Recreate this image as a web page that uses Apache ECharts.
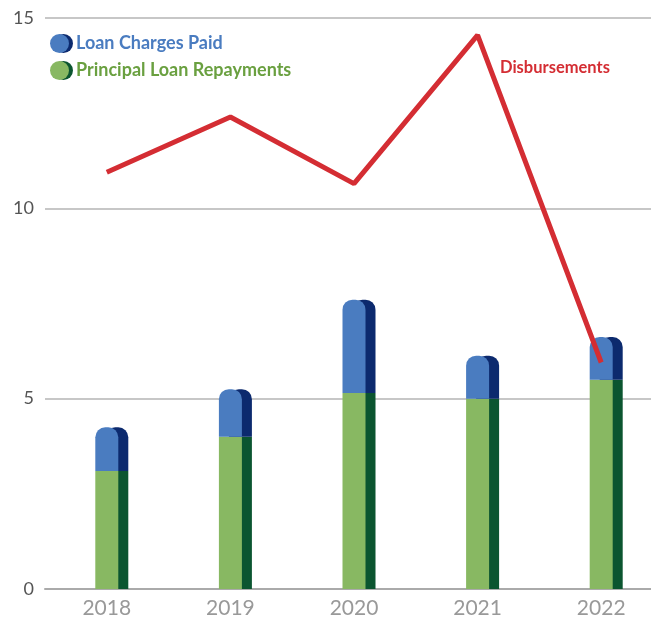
<!DOCTYPE html>
<html>
<head>
<meta charset="utf-8">
<script src="https://cdn.jsdelivr.net/npm/echarts@6/dist/echarts.min.js"></script>
<style>
  html, body { margin: 0; padding: 0; background: #fff; overflow: hidden; }
  #chart { width: 663px; height: 619px; }
</style>
</head>
<body>
<div id="chart"></div>
<script>
  // data
  const years = ['2018', '2019', '2020', '2021', '2022']
  const principalRepayments = [3.1, 4.0, 5.15, 5.0, 5.5]
  const loanCharges = [1.15, 1.25, 2.45, 1.13, 1.12]
  const disbursements = [10.95, 12.4, 10.65, 14.55, 5.95]

  const blue = '#4a7cc0', navy = '#0c2a6e'
  const green = '#88b862', darkGreen = '#0b5530'
  const red = '#d42d33'
  const font = 'Lato, "Open Sans", sans-serif'

  // chart is a bit wider than the window so the plot runs past the right edge
  const chart = echarts.init(document.getElementById('chart'))
  chart.setOption({
    animation: false,
    grid: { left: 45, right: 0, top: 18, bottom: 29 },
    legend: {
      orient: 'vertical', left: 45, top: 29, itemGap: 8,
      icon: 'circle', itemWidth: 19, itemHeight: 19,
      selectedMode: false,
      data: [
        { name: 'Loan Charges Paid', textStyle: { color: blue },
          itemStyle: { color: blue, shadowColor: navy, shadowOffsetX: 4, shadowBlur: 0 } },
        { name: 'Principal Loan Repayments', textStyle: { color: '#6aa040' },
          itemStyle: { color: green, shadowColor: darkGreen, shadowOffsetX: 4, shadowBlur: 0 } }
      ],
      textStyle: { fontFamily: font, fontSize: 18, fontWeight: 'bold', padding: [0, 0, 0, 2] }
    },
    xAxis: {
      type: 'category', data: years,
      axisLine: { lineStyle: { color: '#aaa', width: 2 } },
      axisTick: { show: false },
      axisLabel: { color: '#999', fontSize: 21, fontFamily: font, margin: 9 }
    },
    yAxis: {
      type: 'value', min: 0, max: 15, interval: 5,
      axisLabel: { color: '#555', fontSize: 18, fontFamily: font, margin: 11 },
      splitLine: { lineStyle: { color: '#b5b5b5', width: 1.5 } }
    },
    graphic: [{
      type: 'text', left: 500, top: 59,
      style: { text: 'Disbursements', fill: red, font: 'bold 16.5px ' + font }
    }],
    series: [
      {
        name: 'Principal Loan Repayments', type: 'bar', stack: 'total',
        data: principalRepayments, barWidth: 23,
        itemStyle: { color: green, shadowColor: darkGreen, shadowOffsetX: 10, shadowBlur: 0 }
      },
      {
        name: 'Loan Charges Paid', type: 'bar', stack: 'total',
        data: loanCharges, barWidth: 23,
        itemStyle: { color: blue, borderRadius: [10, 10, 0, 0], shadowColor: navy, shadowOffsetX: 10, shadowBlur: 0 }
      },
      {
        name: 'Disbursements', type: 'line', data: disbursements,
        showSymbol: false, symbol: 'none', z: 5,
        lineStyle: { color: red, width: 5 }
      }
    ]
  })
</script>
</body>
</html>
